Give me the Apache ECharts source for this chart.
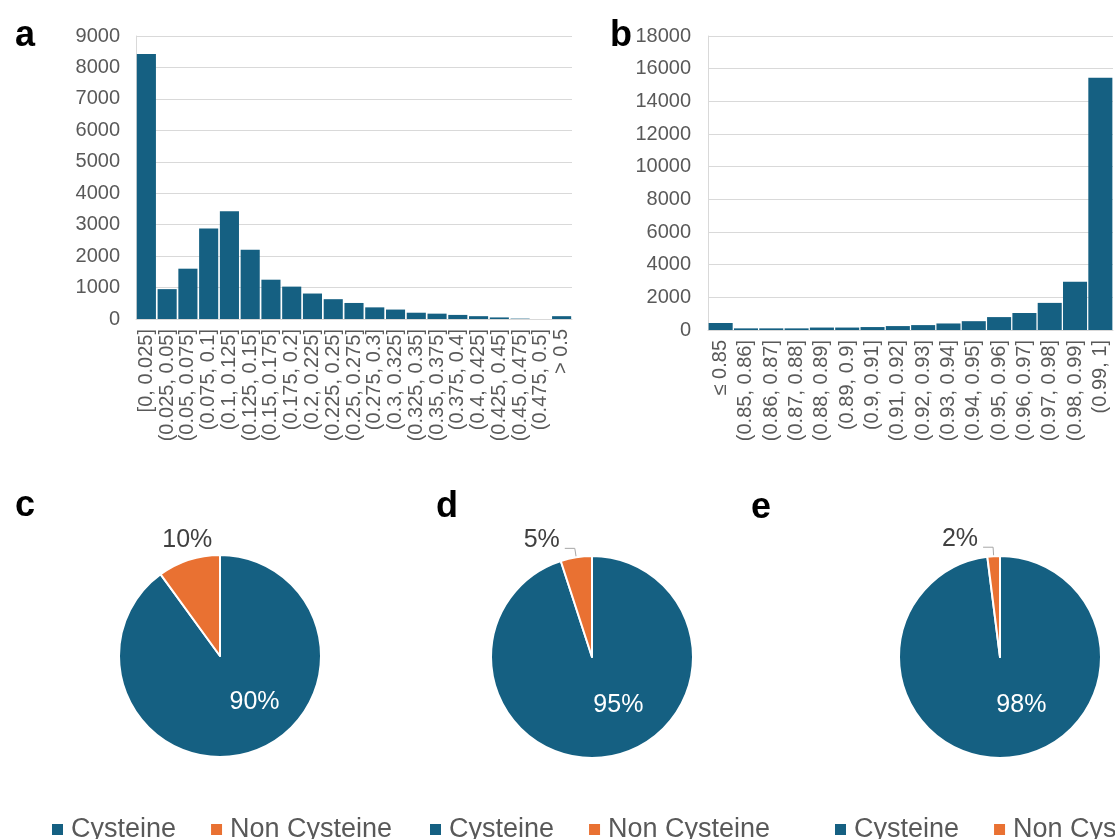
<!DOCTYPE html>
<html>
<head>
<meta charset="utf-8">
<title>Cysteine scores</title>
<script src="https://cdn.jsdelivr.net/npm/echarts@6/dist/echarts.min.js"></script>
<style>
  html, body { margin: 0; padding: 0; background: #fff; }
  #main { width: 1115px; height: 839px; }
</style>
</head>
<body>
<div id="main"></div>
<script>
// panel a: distance histogram
var distCats = ['[0, 0.025]', '(0.025, 0.05]', '(0.05, 0.075]', '(0.075, 0.1]', '(0.1, 0.125]',
  '(0.125, 0.15]', '(0.15, 0.175]', '(0.175, 0.2]', '(0.2, 0.225]', '(0.225, 0.25]',
  '(0.25, 0.275]', '(0.275, 0.3]', '(0.3, 0.325]', '(0.325, 0.35]', '(0.35, 0.375]',
  '(0.375, 0.4]', '(0.4, 0.425]', '(0.425, 0.45]', '(0.45, 0.475]', '(0.475, 0.5]', '> 0.5'];
var distCounts = [8430, 950, 1600, 2880, 3430, 2200, 1250, 1030, 810, 630,
  510, 370, 300, 200, 170, 130, 90, 50, 12, 0, 90];

// panel b: score histogram
var scoreCats = ['≤ 0.85', '(0.85, 0.86]', '(0.86, 0.87]', '(0.87, 0.88]', '(0.88, 0.89]',
  '(0.89, 0.9]', '(0.9, 0.91]', '(0.91, 0.92]', '(0.92, 0.93]', '(0.93, 0.94]',
  '(0.94, 0.95]', '(0.95, 0.96]', '(0.96, 0.97]', '(0.97, 0.98]', '(0.98, 0.99]', '(0.99, 1]'];
var scoreCounts = [430, 100, 100, 100, 150, 150, 180, 240, 300, 400,
  540, 790, 1040, 1660, 2950, 15450];

// panels c, d, e: shares in percent
var pieNames = ['Cysteine', 'Non Cysteine'];
var pieC = [90, 10];
var pieD = [95, 5];
var pieE = [98, 2];

var blue = '#156082';
var orange = '#E97132';
var grey = '#595959';
var font = '"Liberation Sans", Arial, sans-serif';

window.onload = function () {
  var myChart = echarts.init(document.getElementById('main'));

  function pieData(vals) {
    return [
      { name: pieNames[0], value: vals[0], itemStyle: { color: blue },
        label: { position: 'inside', color: '#fff' } },
      { name: pieNames[1], value: vals[1], itemStyle: { color: orange } }
    ];
  }

  function pieSeries(center, vals, showLine) {
    return {
      type: 'pie',
      center: center,
      radius: 101,
      startAngle: 90,
      clockwise: true,
      silent: true,
      animation: false,
      itemStyle: { borderColor: '#fff', borderWidth: 2 },
      label: {
        show: true,
        position: 'outside',
        formatter: '{c}%',
        fontFamily: font,
        fontSize: 25,
        color: '#404040'
      },
      labelLine: {
        show: showLine,
        length: showLine ? 9 : 8,
        length2: showLine ? 10 : 0,
        lineStyle: { color: '#a6a6a6', width: 1 }
      },
      labelLayout: function (params) {
        // inside label sits a bit right/up like Excel does it
        if (params.dataIndex === 0) return { dx: 18, dy: -5 };
        if (!showLine) return { dx: params.labelRect.width / 2 + 6, dy: -12 };
        return { dy: -8 };
      },
      data: pieData(vals)
    };
  }

  function legend(left) {
    return {
      left: left,
      top: 811,
      width: 600,
      itemWidth: 13,
      itemHeight: 13,
      itemGap: 33,
      icon: 'rect',
      textStyle: { fontFamily: font, fontSize: 27, color: grey, padding: [0, 0, 0, 2] },
      data: pieNames
    };
  }

  var letter = { fontFamily: font, fontSize: 36, fontWeight: 'bold', color: '#000' };
  var axisFont = { fontFamily: font, fontSize: 20, color: grey };

  var option = {
    animation: false,
    color: [blue, orange],
    title: [
      { text: 'a', left: 10, top: 13, textStyle: letter },
      { text: 'b', left: 605, top: 13, textStyle: letter },
      { text: 'c', left: 10, top: 483, textStyle: letter },
      { text: 'd', left: 431, top: 484, textStyle: letter },
      { text: 'e', left: 746, top: 485, textStyle: letter }
    ],
    legend: [legend(45), legend(423), legend(828)],
    grid: [
      { left: 136, right: 543, top: 36, bottom: 520 },
      { left: 708, right: 2, top: 36, bottom: 509 }
    ],
    xAxis: [
      {
        type: 'category', gridIndex: 0, data: distCats,
        axisLine: { lineStyle: { color: '#d9d9d9' } },
        axisTick: { show: false },
        axisLabel: Object.assign({ interval: 0, rotate: 90, margin: 10 }, axisFont)
      },
      {
        type: 'category', gridIndex: 1, data: scoreCats,
        axisLine: { lineStyle: { color: '#d9d9d9' } },
        axisTick: { show: false },
        axisLabel: Object.assign({ interval: 0, rotate: 90, margin: 10 }, axisFont)
      }
    ],
    yAxis: [
      {
        type: 'value', gridIndex: 0, min: 0, max: 9000, interval: 1000,
        axisLine: { show: true, lineStyle: { color: '#d9d9d9' } },
        splitLine: { lineStyle: { color: '#d9d9d9' } },
        axisLabel: Object.assign({ margin: 16, formatter: function (v) { return String(v); } }, axisFont)
      },
      {
        type: 'value', gridIndex: 1, min: 0, max: 18000, interval: 2000,
        axisLine: { show: true, lineStyle: { color: '#d9d9d9' } },
        splitLine: { lineStyle: { color: '#d9d9d9' } },
        axisLabel: Object.assign({ margin: 17, formatter: function (v) { return String(v); } }, axisFont)
      }
    ],
    series: [
      {
        type: 'bar', xAxisIndex: 0, yAxisIndex: 0, data: distCounts,
        barCategoryGap: '8%', itemStyle: { color: blue }, silent: true
      },
      {
        type: 'bar', xAxisIndex: 1, yAxisIndex: 1, data: scoreCounts,
        barCategoryGap: '5%', itemStyle: { color: blue }, silent: true
      },
      pieSeries([220, 656], pieC, false),
      pieSeries([592, 657], pieD, true),
      pieSeries([1000, 657], pieE, true)
    ]
  };

  if (option && typeof option === 'object') {
    myChart.setOption(option);
  }
};
</script>
</body>
</html>
